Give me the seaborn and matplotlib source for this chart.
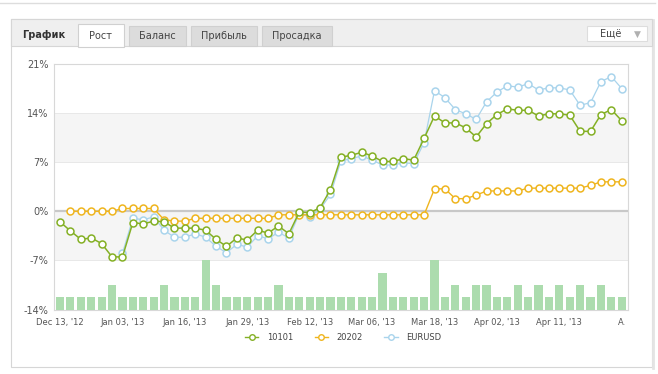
import numpy as np
import matplotlib
matplotlib.use("Agg")
import matplotlib.pyplot as plt
from matplotlib.patches import Rectangle
from matplotlib.lines import Line2D
import seaborn as sns

nan = np.nan

# growth, % (one point per bar)
g10101 = [-1.5, -2.8, -4.0, -3.8, -4.6, -6.5, -6.5, -1.6, -1.8, -1.4,
          -1.5, -2.4, -2.4, -2.4, -2.7, -4.0, -5.0, -3.8, -4.1, -2.7,
          -3.1, -2.1, -3.2, -0.1, -0.2, 0.5, 3.1, 7.7, 8.0, 8.4,
          7.9, 7.1, 7.1, 7.5, 7.3, 10.4, 13.6, 12.6, 12.6, 11.9,
          10.6, 12.5, 13.8, 14.6, 14.4, 14.4, 13.6, 13.9, 13.9, 13.7,
          11.4, 11.4, 13.8, 14.5, 12.9]
g20202 = [nan, 0.0, 0.0, 0.0, 0.0, 0.0, 0.4, 0.4, 0.4, 0.4,
          -1.2, -1.4, -1.4, -1.0, -1.0, -1.0, -1.0, -1.0, -1.0, -1.0,
          -1.0, -0.5, -0.5, -0.5, -0.5, -0.5, -0.5, -0.5, -0.5, -0.5,
          -0.5, -0.5, -0.5, -0.5, -0.5, -0.5, 3.2, 3.2, 1.8, 1.8,
          2.3, 2.9, 2.9, 2.9, 2.9, 3.3, 3.3, 3.3, 3.3, 3.3,
          3.3, 3.7, 4.2, 4.2, 4.2]
eurusd = [nan, nan, nan, nan, nan, nan, -6.0, -1.0, -1.2, -0.8,
          -2.7, -3.7, -3.7, -3.2, -3.7, -5.0, -5.9, -4.7, -5.1, -3.5,
          -3.9, -3.0, -3.8, -0.3, -0.8, 0.3, 2.4, 7.2, 7.5, 7.9,
          7.3, 6.6, 6.6, 6.9, 6.8, 9.8, 17.2, 16.2, 14.5, 13.9,
          13.1, 15.6, 17.0, 17.9, 17.7, 18.2, 17.3, 17.6, 17.6, 17.3,
          15.1, 15.5, 18.5, 19.2, 17.5]
# activity bars
trades = [1, 1, 1, 1, 1, 2, 1, 1, 1, 1,
          2, 1, 1, 1, 4, 2, 1, 1, 1, 1,
          1, 2, 1, 1, 1, 1, 1, 1, 1, 1,
          1, 3, 1, 1, 1, 1, 4, 1, 2, 1,
          2, 2, 1, 1, 2, 1, 2, 1, 2, 1,
          2, 1, 2, 1, 1]
x_labels = ["Dec 13, '12", "Jan 03, '13", "Jan 16, '13", "Jan 29, '13",
            "Feb 12, '13", "Mar 06, '13", "Mar 18, '13", "Apr 02, '13",
            "Apr 11, '13", "A."]
y_ticks = [-14, -7, 0, 7, 14, 21]
tabs = ["Рост", "Баланс", "Прибыль", "Просадка"]

idx = np.arange(len(g10101))

W, H = 658, 374
fig = plt.figure(figsize=(W / 100, H / 100), dpi=100)
fig.patch.set_facecolor("white")
plt.rcParams["font.family"] = ["DejaVu Sans"]


def fx(x):
    return x / W


def fy(y):
    return 1 - y / H


def box(x0, y0, x1, y1, fc, ec, lw=0.8, z=-5):
    fig.patches.append(Rectangle((fx(x0), fy(y1)), fx(x1) - fx(x0), fy(y0) - fy(y1),
                                 transform=fig.transFigure, facecolor=fc,
                                 edgecolor=ec, linewidth=lw, zorder=z))


# page frame
fig.add_artist(Line2D([0, fx(655)], [fy(3), fy(3)], color="#dddddd", lw=1,
                      transform=fig.transFigure, zorder=-5))
box(11, 19, 652, 367, "white", "#d6d6d6", 0.8, -6)
box(11, 19, 652, 46, "#efefef", "#d6d6d6", 0.8, -5)
fig.add_artist(Line2D([fx(653), fx(653)], [fy(20), fy(368)], color="#e4e4e4",
                      lw=2, transform=fig.transFigure, zorder=-5))
fig.text(fx(22), fy(35), "График", fontsize=7, fontweight="bold", color="#333333",
         va="center", ha="left")
tab_x = [(78, 124), (129, 186), (191, 257), (262, 332)]
for i, (name, (a, b)) in enumerate(zip(tabs, tab_x)):
    if i == 0:
        box(a, 24, b, 46.5, "white", "#d0d0d0", 0.8, -4)
    else:
        box(a, 26, b, 46, "#dcdcdc", "#d0d0d0", 0.8, -4)
    fig.text(fx((a + b) / 2), fy(36), name, fontsize=7, color="#444444",
             ha="center", va="center")
box(587, 26, 647, 41, "white", "#dddddd", 0.8, -4)
fig.text(fx(611), fy(34), "Ещё", fontsize=7, color="#444444", ha="center",
         va="center")
fig.text(fx(637), fy(34), "▼", fontsize=6.5, color="#b0b0b0", ha="center",
         va="center")

# chart
ax = fig.add_axes([fx(54), fy(309.5), fx(628) - fx(54), fy(64) - fy(309.5)])
ax.set_facecolor("none")
ax2 = ax.twinx()

sns.barplot(x=idx, y=trades, ax=ax2, color="#acdcae", saturation=1,
            width=0.78, linewidth=0)
ax2.set_ylim(0, 20)
ax2.set_yticks([])
ax2.set_ylabel("")
for s in ax2.spines.values():
    s.set_visible(False)

ax.axhspan(7, 14, color="#f5f5f5", lw=0, zorder=0)
ax.axhspan(-7, 0, color="#f5f5f5", lw=0, zorder=0)
for v in (7, 14, -7):
    ax.axhline(v, color="#e8e8e8", lw=0.7, zorder=0.5)
ax.axhline(0, color="#c8c8c8", lw=1.6, zorder=0.6)

series = [("EURUSD", eurusd, "#a9d4ec", 0.9),
          ("20202", g20202, "#efb51e", 1.0),
          ("10101", g10101, "#84b025", 1.1)]
handles = {}
for name, vals, col, lw in series:
    sns.lineplot(x=idx, y=vals, ax=ax, color=col, lw=lw, marker="o",
                 markersize=5.0, markerfacecolor="white", markeredgecolor=col,
                 markeredgewidth=1.1, zorder=3)
    handles[name] = Line2D([], [], color=col, lw=1.0, marker="o", markersize=4,
                           markerfacecolor="white", markeredgecolor=col,
                           markeredgewidth=1.0)

ax.set_ylim(-14, 21)
ax.set_yticks(y_ticks)
ax.set_yticklabels([f"{v}%" for v in y_ticks])
ax.set_xticks(idx[::6])
ax.set_xticklabels(x_labels)
ax.set_xlim(-0.58, 54.6)
ax.tick_params(axis="y", length=0, pad=4, labelsize=7, labelcolor="#555555")
ax.tick_params(axis="x", length=0, pad=6, labelsize=6, labelcolor="#555555")
ax.set_xlabel("")
ax.set_ylabel("")
for s in ax.spines.values():
    s.set_color("#d8d8d8")
    s.set_linewidth(0.8)

order = ["10101", "20202", "EURUSD"]
fig.legend([handles[n] for n in order], order, loc="center",
           bbox_to_anchor=(fx(343), fy(337)), ncol=3, frameon=False,
           fontsize=6, handlelength=1.6, columnspacing=2.6, handletextpad=1.0,
           labelcolor="#444444")

fig.savefig("out.png", dpi=100)
